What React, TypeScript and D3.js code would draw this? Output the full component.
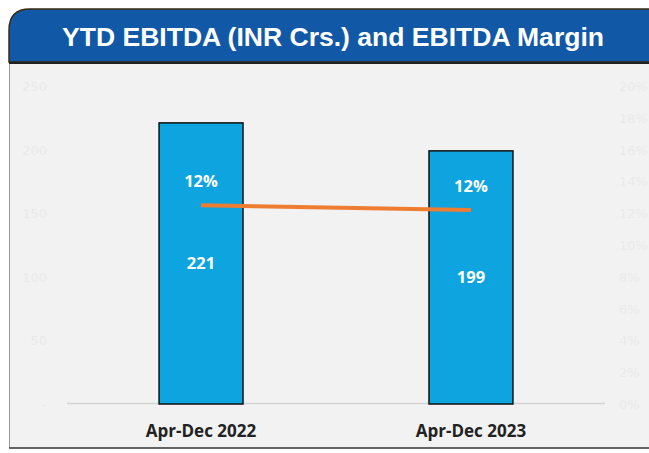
import React from "react"
import * as d3 from "d3"

// values
const categories = ["Apr-Dec 2022", "Apr-Dec 2023"]
const ebitda = [221, 199]
const margin = [0.125, 0.122]
const marginLabels = ["12%", "12%"]
const leftTicks = [0, 50, 100, 150, 200, 250]
const rightTicks = [0, 0.02, 0.04, 0.06, 0.08, 0.1, 0.12, 0.14, 0.16, 0.18, 0.2]

export default function App() {
  const width = 649, height = 453
  const plot = { left: 67, right: 605, top: 86, bottom: 404 }

  const x = d3.scaleBand().domain(categories).range([plot.left, plot.right]).paddingInner(0.689).paddingOuter(0.341)
  const y = d3.scaleLinear().domain([0, 250]).range([plot.bottom, plot.top])
  const y2 = d3.scaleLinear().domain([0, 0.2]).range([plot.bottom, plot.top])

  const line = d3.line<number>()
    .x((_, i) => x(categories[i])! + x.bandwidth() / 2)
    .y(d => y2(d))

  const fmtPct = d3.format(".0%")

  return (
    <svg width={width} height={height} style={{ position: "fixed", left: 0, top: 0, display: "block" }}>
      <rect x={0} y={0} width={width} height={height} fill="#ffffff" />
      {/* panel */}
      <rect x={9} y={63} width={width - 9} height={385} fill="#f2f2f2" />
      <line x1={9.5} x2={9.5} y1={63} y2={448} stroke="#9a9a9a" strokeWidth={1} />
      <line x1={9} x2={width} y1={448} y2={448} stroke="#333" strokeWidth={1.5} />
      {/* title bar */}
      <path d={`M9,62 L9,30 Q9,9 30,9 L${width + 5},9 L${width + 5},62 Z`} fill="#1158a7" stroke="#3b2a12" strokeWidth={1.5} />
      <line x1={9} x2={width} y1={63} y2={63} stroke="#222" strokeWidth={2} />
      <text x={333} y={46} textAnchor="middle" fill="#ffffff" fontFamily="Liberation Sans, Arial, sans-serif" fontWeight="bold" fontSize={26} textLength={542} lengthAdjust="spacingAndGlyphs">
        YTD EBITDA (INR Crs.) and EBITDA Margin
      </text>

      {/* faint axes */}
      {leftTicks.map(t => (
        <text key={t} x={47} y={y(t) + 5} textAnchor="end" fontFamily="DejaVu Sans, sans-serif" fontSize={13} fill="#eaeaea">{t === 0 ? "-" : t}</text>
      ))}
      {rightTicks.map(t => (
        <text key={t} x={619} y={y2(t) + 5} fontFamily="DejaVu Sans, sans-serif" fontSize={13} fill="#eaeaea">{fmtPct(t)}</text>
      ))}
      <line x1={plot.left} x2={plot.right} y1={plot.bottom - 0.5} y2={plot.bottom - 0.5} stroke="#d4d4d4" strokeWidth={1.5} />

      {/* bars */}
      {ebitda.map((v, i) => (
        <g key={categories[i]}>
          <rect x={x(categories[i])} y={y(v)} width={x.bandwidth()} height={plot.bottom - y(v)} fill="#0ea4e0" stroke="#111" strokeWidth={1.5} />
          <text x={x(categories[i])! + x.bandwidth() / 2} y={(y(v) + plot.bottom) / 2 + 6} textAnchor="middle" fill="#ffffff" fontFamily="Open Sans, sans-serif" fontWeight="bold" fontSize={16.5}>{v}</text>
        </g>
      ))}

      {/* margin line */}
      <path d={line(margin)!} fill="none" stroke="#ee7d31" strokeWidth={4} />
      {margin.map((m, i) => (
        <text key={i} x={x(categories[i])! + x.bandwidth() / 2} y={y2(m) - 18} textAnchor="middle" fill="#ffffff" fontFamily="Open Sans, sans-serif" fontWeight="bold" fontSize={16.5}>{marginLabels[i]}</text>
      ))}

      {/* category labels */}
      {categories.map(c => (
        <text key={c} x={x(c)! + x.bandwidth() / 2} y={437} textAnchor="middle" fill="#222" fontFamily="Open Sans, sans-serif" fontWeight="bold" fontSize={17}>{c}</text>
      ))}
    </svg>
  )
}
